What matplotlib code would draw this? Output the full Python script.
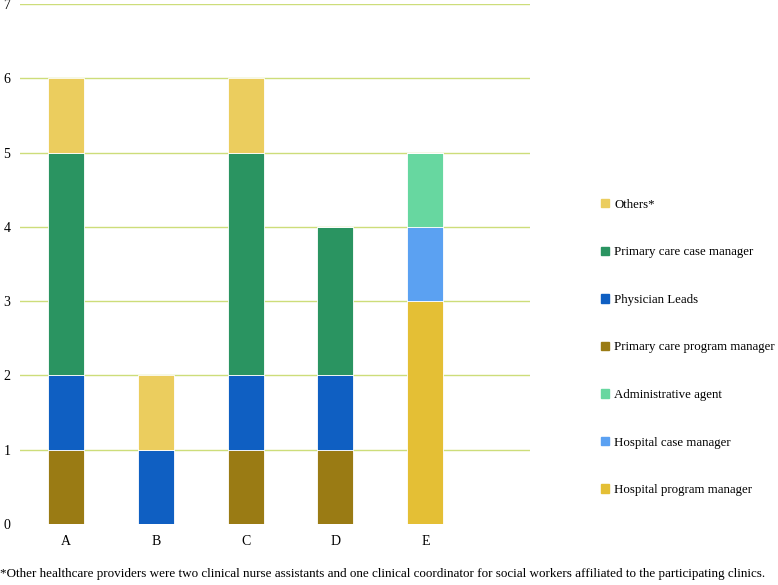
import numpy as np
import matplotlib.pyplot as plt
from matplotlib.patches import Patch

plt.rcParams['font.family'] = ['Liberation Serif', 'DejaVu Serif']

# Данные
sites = ['A', 'B', 'C', 'D', 'E']
roles = ['Hospital program manager', 'Hospital case manager', 'Administrative agent',
         'Primary care program manager', 'Physician Leads', 'Primary care case manager',
         'Others*']
hosp_program = [0, 0, 0, 0, 3]
hosp_case = [0, 0, 0, 0, 1]
admin_agent = [0, 0, 0, 0, 1]
pc_program = [1, 0, 1, 1, 0]
physician = [1, 1, 1, 1, 0]
pc_case = [3, 0, 3, 2, 0]
others = [1, 1, 1, 0, 0]
colors = ['#E4BF35', '#5BA1F2', '#67D7A0', '#9A7B14', '#0F5FC2', '#2A9461', '#EBCD5E']

series = [hosp_program, hosp_case, admin_agent, pc_program, physician, pc_case, others]
footnote = ('*Other healthcare providers were two clinical nurse assistants and one clinical '
            'coordinator for social workers affiliated to the participating clinics.')

fig = plt.figure(figsize=(7.78, 5.85), dpi=100)
ax = fig.add_axes([0.0257, 0.1043, 0.655, 0.889])

x = np.arange(len(sites))
bottom = np.zeros(len(sites))
for vals, c in zip(series, colors):
    v = np.array(vals, dtype=float)
    ax.bar(x, v, bottom=bottom, width=0.4, color=c, edgecolor='white', linewidth=0.6, zorder=3)
    bottom += v

ax.set_ylim(0, 7)
ax.set_xlim(-0.51, 5.16)
ax.set_yticks(range(8))
ax.set_xticks(x)
ax.set_xticklabels(sites)
ax.tick_params(length=0, labelsize=10)
ax.tick_params(axis='y', pad=7)
ax.tick_params(axis='x', pad=8)
for s in ax.spines.values():
    s.set_visible(False)
ax.yaxis.grid(True, color='#CDDD7A', linewidth=1.0, zorder=0)
ax.get_ygridlines()[0].set_visible(False)

handles = [Patch(color=c, label=r) for r, c in zip(roles, colors)][::-1]
fig.legend(handles=handles, loc='center left', bbox_to_anchor=(0.758, 0.406),
           frameon=False, fontsize=9.3, handlelength=0.6, handleheight=0.6,
           handletextpad=0.4, labelspacing=2.75)

fig.text(0.0, 0.018, footnote, fontsize=9.45, ha='left', va='center')

plt.savefig('out.png', dpi=100)
